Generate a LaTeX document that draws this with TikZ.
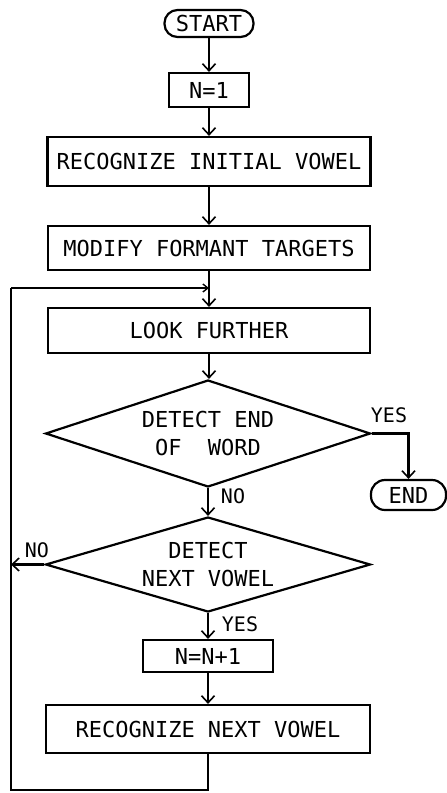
\documentclass[tikz,border=0pt]{standalone}
\usepackage{fontspec}
\setmainfont{DejaVu Sans Mono}
\usetikzlibrary{shapes.geometric,arrows.meta}
\begin{document}
\begin{tikzpicture}[x=1pt,y=-1pt,
  every node/.style={font=\fontsize{22}{28}\selectfont, inner sep=0pt},
  box/.style={draw, line width=2.2pt, rectangle},
  term/.style={draw, line width=2.2pt, rectangle, rounded corners=13pt},
  dec/.style={draw, line width=2.2pt, diamond, align=center, inner sep=0pt},
  lbl/.style={font=\fontsize{20}{24}\selectfont},
  flow/.style={line width=2.2pt, -{Straight Barb[length=7pt,width=13pt,line width=1.6pt]}},
  smallflow/.style={line width=2.2pt, -{Straight Barb[length=5pt,width=8pt,line width=1.4pt]}},
  plain/.style={line width=2.2pt}
]
\useasboundingbox (0,0) rectangle (447,793);
\node[term, minimum width=89pt, minimum height=27pt] (start) at (209,23.5) {START};
\node[box, minimum width=80pt, minimum height=34pt] (n1) at (209,90) {N=1};
\node[box, minimum width=323pt, minimum height=49pt] (rec1) at (209,161.5) {RECOGNIZE INITIAL VOWEL};
\node[box, minimum width=322pt, minimum height=44pt] (mod) at (209,248) {MODIFY FORMANT TARGETS};
\node[box, minimum width=322pt, minimum height=45pt] (look) at (209,330.5) {LOOK FURTHER};
\node[dec, aspect=3.04, minimum width=325pt, minimum height=107pt] (d1) at (208,433.5) {DETECT END\\OF\ \ WORD};
\node[term, minimum width=75pt, minimum height=30pt, rounded corners=14pt] (end) at (408.5,495) {END};
\node[dec, aspect=3.42, minimum width=325pt, minimum height=95pt] (d2) at (208,564.5) {DETECT\\NEXT VOWEL};
\node[box, minimum width=130pt, minimum height=32pt] (n2) at (208,656) {N=N+1};
\node[box, minimum width=324pt, minimum height=48pt] (rec2) at (208,729) {RECOGNIZE NEXT VOWEL};

\node[lbl] (yes1) at (389,415.5) {YES};
\node[lbl] (no1) at (233,496) {NO};
\node[lbl] (no2) at (37,550) {NO};
\node[lbl] (yes2) at (240,624) {YES};

\coordinate (lb) at (11,790);
\coordinate (lt) at (11,288);
\coordinate (jn) at (209,288);

\draw[flow] (start) -- (n1);
\draw[flow] (n1) -- (rec1);
\draw[flow] (rec1) -- (mod);
\draw[flow] (mod) -- (look);
\draw[flow] (look.south) -- (look.south |- d1.north);
\draw[flow] (d1.east) -| (end.north);
\draw[flow] (d1.south) -- (d2.north);
\draw[flow] (d2.west) -- (d2.west -| lt);
\draw[flow] (d2.south) -- (n2.north);
\draw[flow] (n2) -- (rec2);
\draw[plain] (rec2.south) |- (lb) -- (lt);
\draw[smallflow] (lt) -- (jn);
\end{tikzpicture}
\end{document}
